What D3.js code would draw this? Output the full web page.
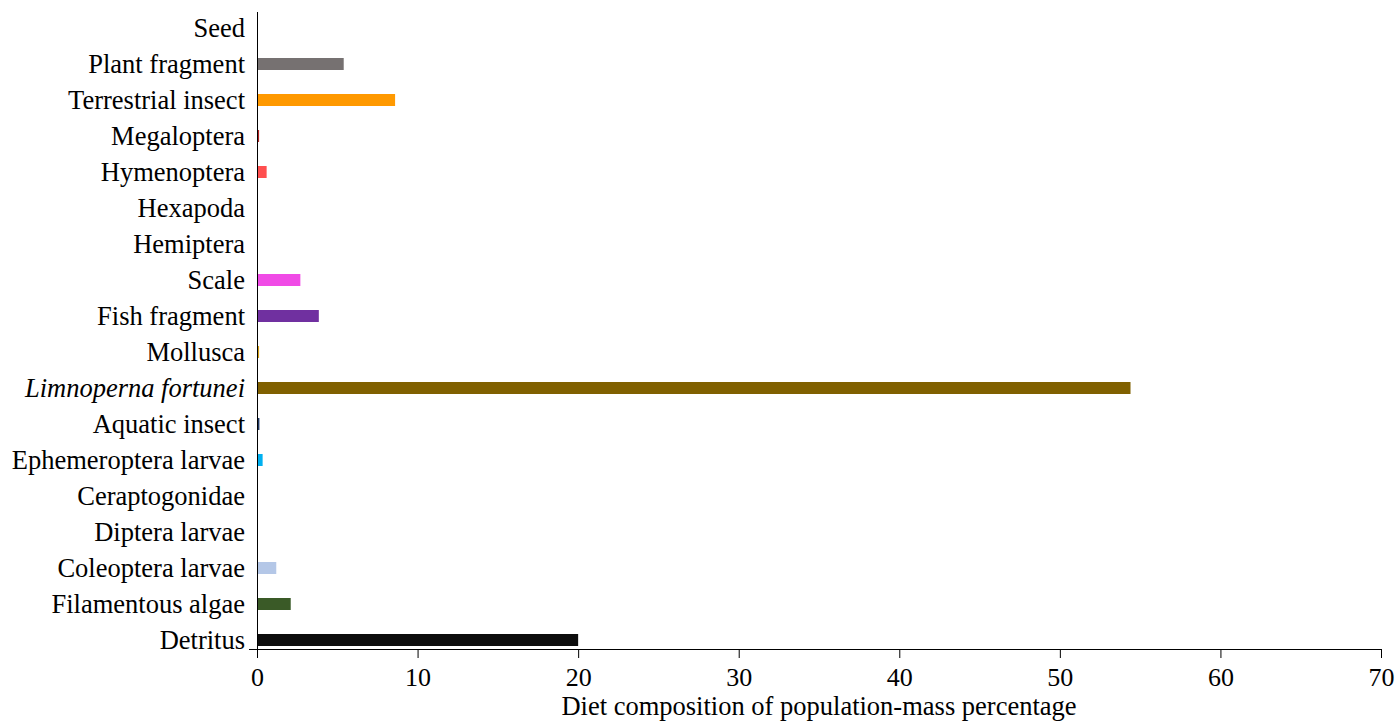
<!DOCTYPE html>
<html>
<head>
<meta charset="utf-8">
<script src="https://cdn.jsdelivr.net/npm/d3@7"></script>
<style>
  body { margin: 0; background: #fff; }
  text { font-family: "Liberation Serif", "Times New Roman", serif; fill: #000; }
</style>
</head>
<body>
<script>
// DATA (top to bottom)
const categories = [
  'Seed', 'Plant fragment', 'Terrestrial insect', 'Megaloptera', 'Hymenoptera',
  'Hexapoda', 'Hemiptera', 'Scale', 'Fish fragment', 'Mollusca',
  'Limnoperna fortunei', 'Aquatic insect', 'Ephemeroptera larvae', 'Ceraptogonidae',
  'Diptera larvae', 'Coleoptera larvae', 'Filamentous algae', 'Detritus'
];
const values = [
  0, 5.4, 8.6, 0.13, 0.6,
  0, 0, 2.7, 3.85, 0.13,
  54.4, 0.15, 0.35, 0,
  0, 1.2, 2.1, 20.0
];
const colors = [
  '#ffffff', '#767171', '#ff9900', '#b22222', '#ff4f4f',
  '#ffffff', '#ffffff', '#f04be6', '#7030a0', '#d4a017',
  '#806000', '#203864', '#00b0f0', '#ffffff',
  '#ffffff', '#b4c7e7', '#3a5a27', '#0d0d0d'
];
const xTicks = [0, 10, 20, 30, 40, 50, 60, 70];
const xTitle = 'Diet composition of population-mass percentage';

const width = 1399, height = 722;
const axisY = 649;
const fontSize = '26.5px';

const svg = d3.select('body')
  .append('svg')
  .attr('width', width)
  .attr('height', height);

const x = d3.scaleLinear().domain([0, 70]).range([257, 1381]);

const y = d3.scaleBand()
  .domain(categories)
  .range([10, 658])
  .paddingInner(2 / 3)
  .paddingOuter(1 / 3);

// BARS
svg.append('g')
  .selectAll('rect')
  .data(categories)
  .join('rect')
  .attr('x', x(0))
  .attr('y', (d) => y(d))
  .attr('width', (d, i) => x(values[i]) - x(0))
  .attr('height', y.bandwidth())
  .attr('fill', (d, i) => colors[i]);

// X AXIS
const xAxis = svg.append('g')
  .attr('transform', `translate(0, ${axisY})`)
  .call(d3.axisBottom(x).tickValues(xTicks).tickSize(9).tickSizeOuter(0).tickFormat(d3.format('d')));
xAxis.attr('font-family', '"Liberation Serif", serif').attr('font-size', '26px');
xAxis.select('.domain').attr('stroke', '#000');
xAxis.selectAll('.tick line').attr('stroke', '#000');
xAxis.selectAll('.tick text')
  .attr('dy', null)
  .attr('y', 37)
  .attr('fill', '#000');

// small stub left of y axis at bottom
svg.append('line')
  .attr('x1', x(0) - 8).attr('x2', x(0))
  .attr('y1', axisY + 0.5).attr('y2', axisY + 0.5)
  .attr('stroke', '#000');

// Y AXIS line
svg.append('line')
  .attr('x1', x(0) + 0.5).attr('x2', x(0) + 0.5)
  .attr('y1', 12).attr('y2', axisY)
  .attr('stroke', '#000');

// CATEGORY LABELS
svg.append('g')
  .selectAll('text')
  .data(categories)
  .join('text')
  .attr('x', x(0) - 12)
  .attr('y', (d) => y(d) + y.bandwidth() / 2)
  .attr('dy', '0.33em')
  .attr('text-anchor', 'end')
  .style('font-size', fontSize)
  .style('font-style', (d) => (d === 'Limnoperna fortunei' ? 'italic' : 'normal'))
  .text((d) => d);

// X TITLE
svg.append('text')
  .attr('x', (x(0) + x(70)) / 2)
  .attr('y', 715)
  .attr('text-anchor', 'middle')
  .style('font-size', fontSize)
  .text(xTitle);
</script>
</body>
</html>
